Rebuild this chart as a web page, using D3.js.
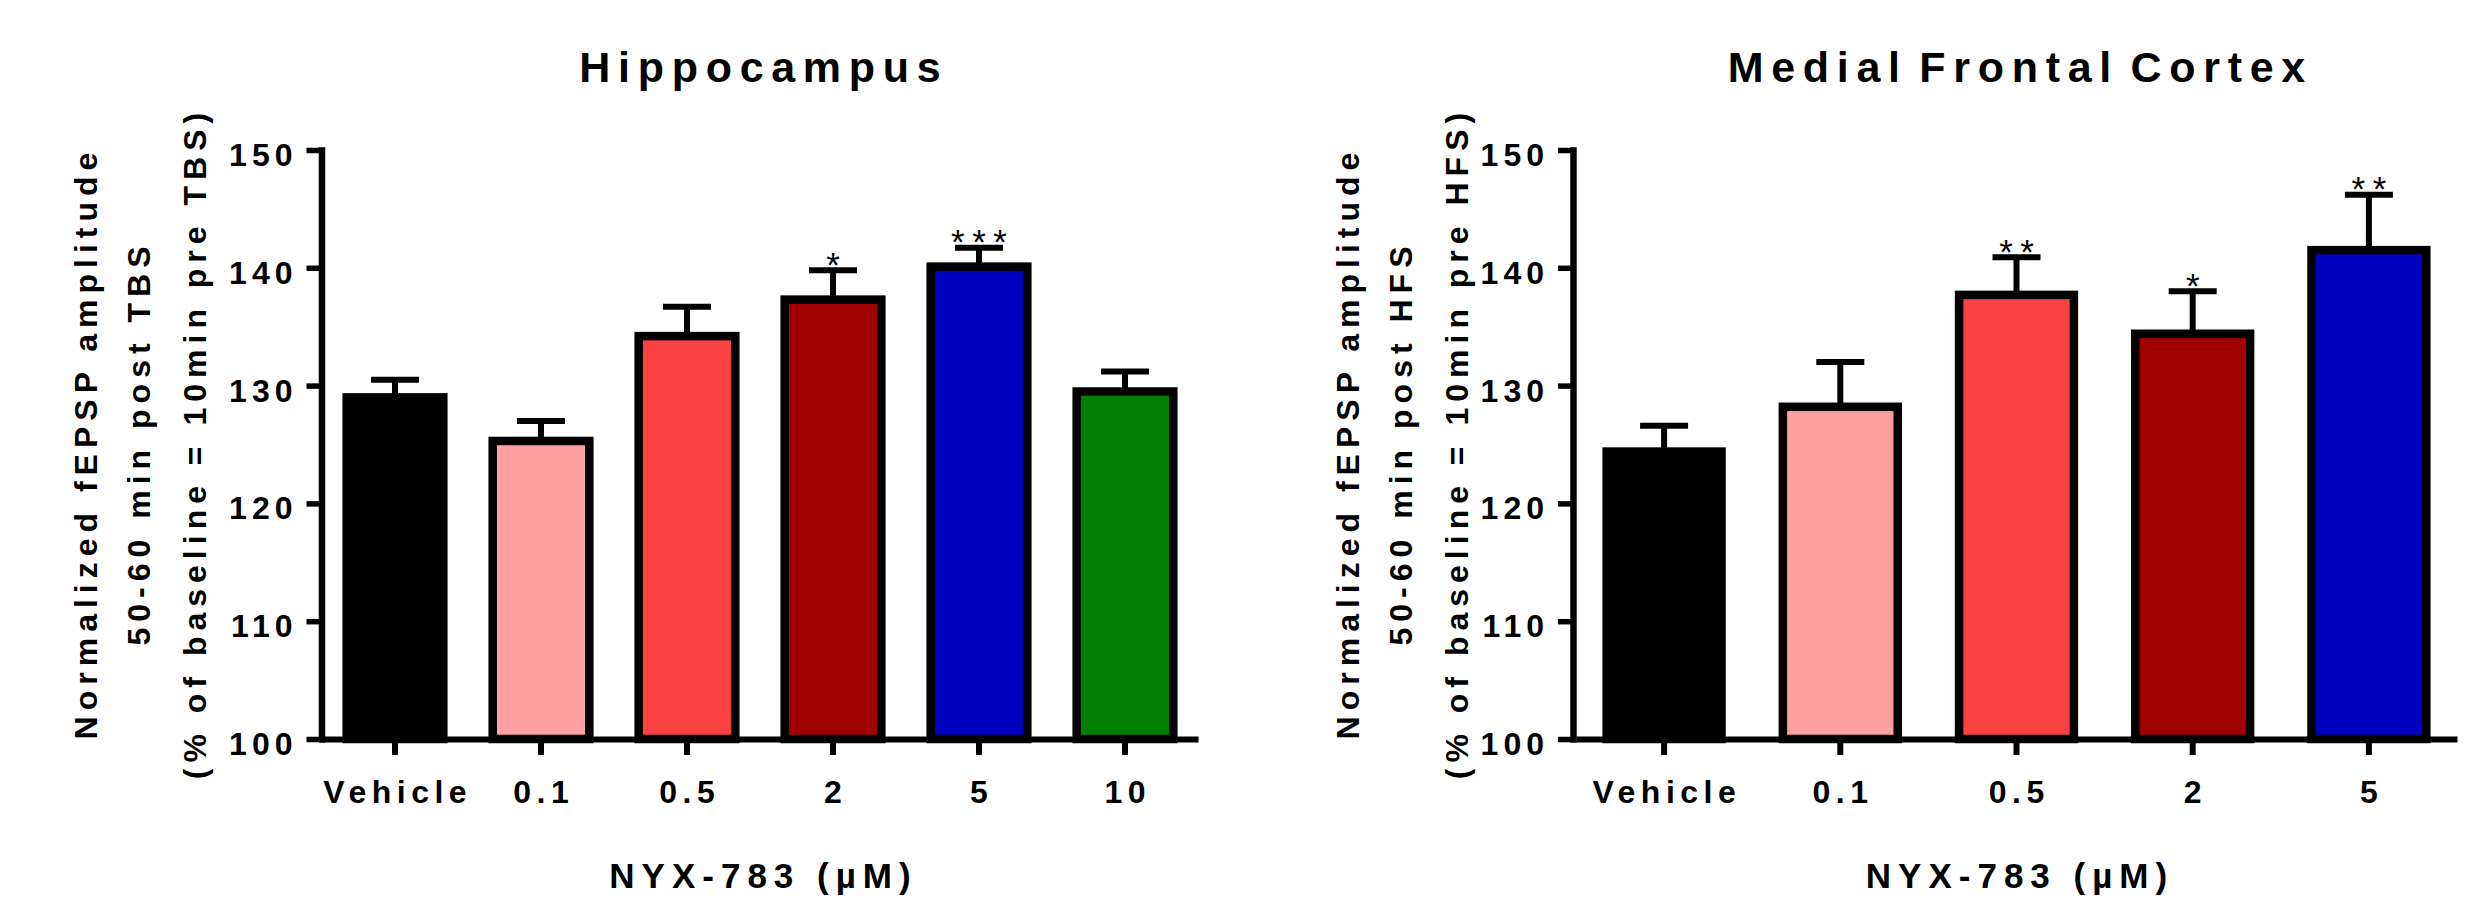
<!DOCTYPE html>
<html>
<head>
<meta charset="utf-8">
<script src="https://cdn.jsdelivr.net/npm/d3@7"></script>
<style>
  body { margin: 0; background: #fff; }
  svg text { font-family: "Liberation Sans", Arial, sans-serif; font-weight: bold; fill: #000; }
</style>
</head>
<body>
<svg width="2484" height="906"></svg>
<script>
// values
const yTicks = [100, 110, 120, 130, 140, 150];

const hippoCategories = ["Vehicle", "0.1", "0.5", "2", "5", "10"];
const hippoMeans = [129.0, 125.3, 134.2, 137.3, 140.1, 129.5];
const hippoErrors = [1.5, 1.7, 2.5, 2.5, 1.6, 1.7];
const hippoStars = ["", "", "", "*", "***", ""];
const hippoColors = ["#000000", "#FFA0A0", "#F94343", "#A00000", "#0000C0", "#007F00"];

const mfcCategories = ["Vehicle", "0.1", "0.5", "2", "5"];
const mfcMeans = [124.4, 128.2, 137.7, 134.4, 141.5];
const mfcErrors = [2.2, 3.8, 3.2, 3.6, 4.7];
const mfcStars = ["", "", "**", "*", "**"];
const mfcColors = ["#000000", "#FFA0A0", "#F94343", "#A00000", "#0000C0"];

const svg = d3.select("svg");

function drawPanel(p) {
    var x = d3.scaleBand().domain(p.categories).range([p.x0, p.x1])
        .paddingInner(p.pad).paddingOuter(p.pad / 2);
    var y = d3.scaleLinear().domain([100, 150]).range([739, 150]);
    var sw = 8.5;
    var bw = x.bandwidth();
    var g = svg.append("g");
    var cx = function (i) { return x(p.categories[i]) + bw / 2; };

    // bars
    g.selectAll("rect.bar").data(p.means).enter().append("rect")
        .attr("class", "bar")
        .attr("x", function (d, i) { return x(p.categories[i]) + sw / 2; })
        .attr("width", bw - sw)
        .attr("y", function (d) { return y(d); })
        .attr("height", function (d) { return y(100) - y(d); })
        .attr("fill", function (d, i) { return p.colors[i]; })
        .attr("stroke", "#000").attr("stroke-width", sw);

    // error bars (upper only)
    g.selectAll("line.stem").data(p.means).enter().append("line")
        .attr("x1", function (d, i) { return cx(i); })
        .attr("x2", function (d, i) { return cx(i); })
        .attr("y1", function (d) { return y(d); })
        .attr("y2", function (d, i) { return y(d + p.errors[i]); })
        .attr("stroke", "#000").attr("stroke-width", 6);
    g.selectAll("line.cap").data(p.means).enter().append("line")
        .attr("x1", function (d, i) { return cx(i) - 24; })
        .attr("x2", function (d, i) { return cx(i) + 24; })
        .attr("y1", function (d, i) { return y(d + p.errors[i]); })
        .attr("y2", function (d, i) { return y(d + p.errors[i]); })
        .attr("stroke", "#000").attr("stroke-width", 6);

    // significance stars
    g.selectAll("text.star").data(p.means).enter().append("text")
        .attr("x", function (d, i) { return cx(i) + 3.75; })
        .attr("y", function (d, i) { return y(d + p.errors[i]) + 6.5; })
        .attr("text-anchor", "middle")
        .attr("font-size", 35).attr("letter-spacing", 7.5)
        .style("font-weight", "normal")
        .text(function (d, i) { return p.stars[i]; });

    // y axis
    g.append("g").attr("transform", "translate(" + p.axisX + ",0)")
        .call(d3.axisLeft(y).tickValues(yTicks).tickSize(15).tickSizeOuter(0))
        .call(function (a) {
            a.select(".domain").attr("stroke-width", 6.5).attr("stroke-linecap", "square");
            a.selectAll(".tick line").attr("stroke-width", 5.5);
            a.selectAll(".tick text").attr("x", -24).attr("dy", null).attr("y", 15.5)
                .attr("font-size", 32).attr("letter-spacing", 5);
        });

    // x axis
    g.append("g").attr("transform", "translate(0,739)")
        .call(d3.axisBottom(x).tickSize(16).tickSizeOuter(0))
        .call(function (a) {
            a.select(".domain").attr("stroke-width", 6);
            a.selectAll(".tick line").attr("stroke-width", 6);
            a.selectAll(".tick text").attr("dy", null).attr("y", 64).attr("dx", 2.75)
                .attr("font-size", 32).attr("letter-spacing", 5.5);
        });

    var mid = (p.x0 + p.x1) / 2;
    // title
    g.append("text").attr("x", mid + 3.85).attr("y", 82)
        .attr("text-anchor", "middle").attr("font-size", 43).attr("letter-spacing", 7.7)
        .attr("word-spacing", -8)
        .text(p.title);
    // x axis title
    g.append("text").attr("x", mid + 3.5).attr("y", 888)
        .attr("text-anchor", "middle").attr("font-size", 35).attr("letter-spacing", 7)
        .text("NYX-783 (µM)");
    // y axis title, three lines
    var yl = g.append("g").attr("transform", "translate(0,446) rotate(-90)");
    yl.selectAll("text").data(p.yLabel).enter().append("text")
        .attr("x", 3).attr("y", function (d, i) { return p.labelX[i]; })
        .attr("text-anchor", "middle").attr("font-size", 32).attr("letter-spacing", 6)
        .text(function (d) { return d; });
}

drawPanel({
    categories: hippoCategories, means: hippoMeans, errors: hippoErrors,
    stars: hippoStars, colors: hippoColors,
    x0: 322, x1: 1198, pad: 0.28, axisX: 321.5,
    title: "Hippocampus",
    yLabel: ["Normalized fEPSP amplitude", "50-60  min post TBS", "(% of baseline = 10min pre TBS)"],
    labelX: [97, 150, 206]
});

drawPanel({
    categories: mfcCategories, means: mfcMeans, errors: mfcErrors,
    stars: mfcStars, colors: mfcColors,
    x0: 1576, x1: 2457, pad: 0.3, axisX: 1573,
    title: "Medial Frontal Cortex",
    yLabel: ["Normalized fEPSP amplitude", "50-60  min post HFS", "(% of baseline = 10min pre HFS)"],
    labelX: [1359, 1412, 1468]
});
</script>
</body>
</html>
